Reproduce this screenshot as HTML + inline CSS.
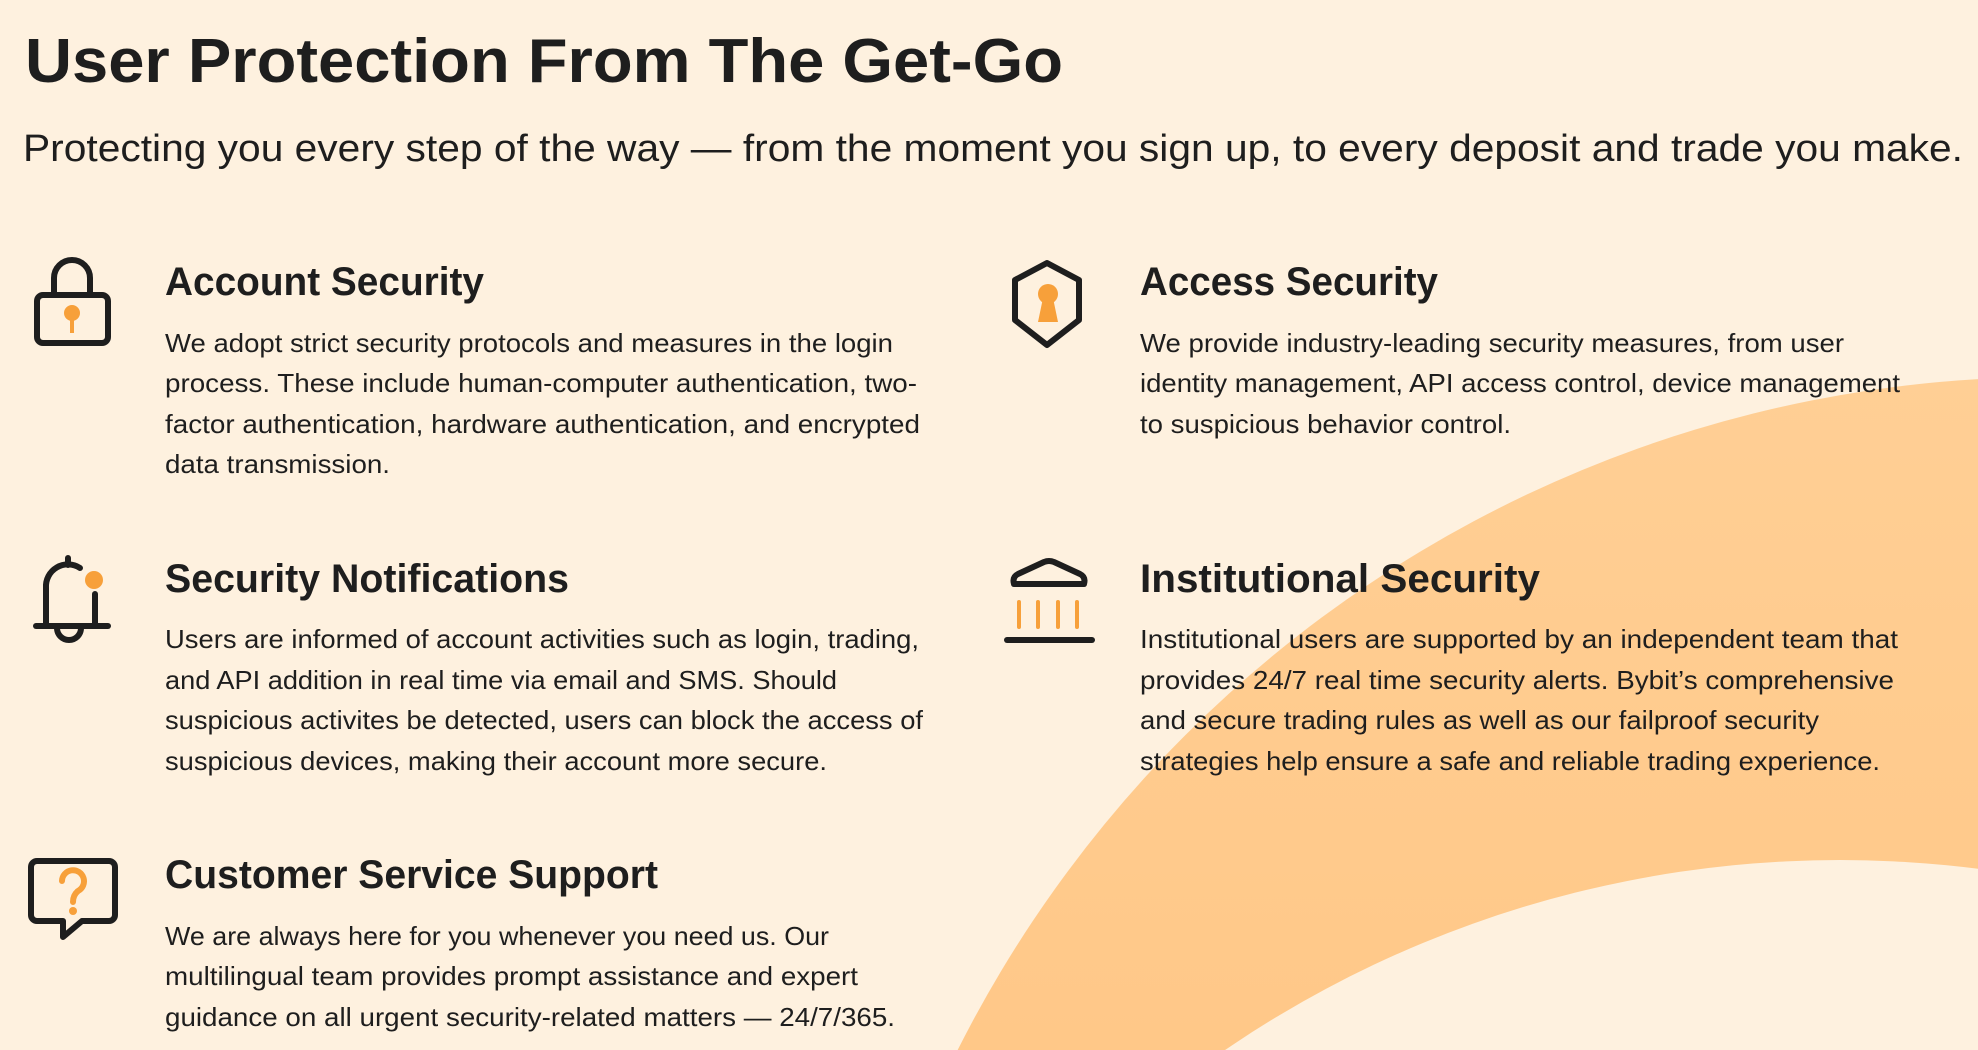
<!DOCTYPE html>
<html><head><meta charset="utf-8"><style>
html,body{margin:0;padding:0;background:#fef1df;width:1978px;height:1050px;overflow:hidden}
svg{display:block}
text{font-family:"Liberation Sans",sans-serif;fill:#1e1e1e}
.h{font-weight:bold;font-size:40px}
.b{font-size:26px}
</style></head><body>
<svg width="1978" height="1050" viewBox="0 0 1978 1050" xmlns="http://www.w3.org/2000/svg">
<defs>
<linearGradient id="g" x1="0" y1="0" x2="0" y2="1">
<stop offset="0" stop-color="#ffcf95"/><stop offset="1" stop-color="#ffb566"/>
</linearGradient>
<mask id="m"><rect width="1978" height="1050" fill="#fff"/><circle cx="1840" cy="1950" r="1090" fill="#000"/></mask>
</defs>
<rect width="1978" height="1050" fill="#fef1df"/>
<circle cx="2050" cy="1600" r="1223" fill="url(#g)" mask="url(#m)"/>

<text x="25" y="82" style="font-weight:bold;font-size:62px" textLength="1038" lengthAdjust="spacingAndGlyphs">User Protection From The Get-Go</text>
<text x="23" y="161" style="font-size:38px" textLength="1940" lengthAdjust="spacingAndGlyphs">Protecting you every step of the way — from the moment you sign up, to every deposit and trade you make.</text>

<text class="h" x="165" y="295" textLength="319" lengthAdjust="spacingAndGlyphs">Account Security</text>
<text class="b" x="165" y="352" textLength="728" lengthAdjust="spacingAndGlyphs">We adopt strict security protocols and measures in the login</text>
<text class="b" x="165" y="392" textLength="752" lengthAdjust="spacingAndGlyphs">process. These include human-computer authentication, two-</text>
<text class="b" x="165" y="433" textLength="755" lengthAdjust="spacingAndGlyphs">factor authentication, hardware authentication, and encrypted</text>
<text class="b" x="165" y="473" textLength="225" lengthAdjust="spacingAndGlyphs">data transmission.</text>

<text class="h" x="1140" y="295" textLength="298" lengthAdjust="spacingAndGlyphs">Access Security</text>
<text class="b" x="1140" y="352" textLength="704" lengthAdjust="spacingAndGlyphs">We provide industry-leading security measures, from user</text>
<text class="b" x="1140" y="392" textLength="760" lengthAdjust="spacingAndGlyphs">identity management, API access control, device management</text>
<text class="b" x="1140" y="433" textLength="371" lengthAdjust="spacingAndGlyphs">to suspicious behavior control.</text>

<text class="h" x="165" y="592" textLength="404" lengthAdjust="spacingAndGlyphs">Security Notifications</text>
<text class="b" x="165" y="648" textLength="754" lengthAdjust="spacingAndGlyphs">Users are informed of account activities such as login, trading,</text>
<text class="b" x="165" y="689" textLength="672" lengthAdjust="spacingAndGlyphs">and API addition in real time via email and SMS. Should</text>
<text class="b" x="165" y="729" textLength="758" lengthAdjust="spacingAndGlyphs">suspicious activites be detected, users can block the access of</text>
<text class="b" x="165" y="770" textLength="662" lengthAdjust="spacingAndGlyphs">suspicious devices, making their account more secure.</text>

<text class="h" x="1140" y="592" textLength="400" lengthAdjust="spacingAndGlyphs">Institutional Security</text>
<text class="b" x="1140" y="648" textLength="758" lengthAdjust="spacingAndGlyphs">Institutional users are supported by an independent team that</text>
<text class="b" x="1140" y="689" textLength="754" lengthAdjust="spacingAndGlyphs">provides 24/7 real time security alerts. Bybit’s comprehensive</text>
<text class="b" x="1140" y="729" textLength="679" lengthAdjust="spacingAndGlyphs">and secure trading rules as well as our failproof security</text>
<text class="b" x="1140" y="770" textLength="740" lengthAdjust="spacingAndGlyphs">strategies help ensure a safe and reliable trading experience.</text>

<text class="h" x="165" y="888" textLength="493" lengthAdjust="spacingAndGlyphs">Customer Service Support</text>
<text class="b" x="165" y="945" textLength="664" lengthAdjust="spacingAndGlyphs">We are always here for you whenever you need us. Our</text>
<text class="b" x="165" y="985" textLength="693" lengthAdjust="spacingAndGlyphs">multilingual team provides prompt assistance and expert</text>
<text class="b" x="165" y="1026" textLength="730" lengthAdjust="spacingAndGlyphs">guidance on all urgent security-related matters — 24/7/365.</text>

<!-- lock -->
<g fill="none" stroke="#1e1e1e" stroke-width="6" stroke-linecap="round">
<path d="M54 293 V278 A18 18 0 0 1 90 278 V293"/>
<rect x="37" y="295" width="71" height="48" rx="6"/>
</g>
<circle cx="72" cy="313" r="8" fill="#f7a03a"/>
<rect x="70" y="315" width="4" height="18" fill="#f7a03a"/>
<!-- shield -->
<path d="M1047 263 L1079 280 V320 L1047 345 L1015 320 V280 Z" fill="none" stroke="#1e1e1e" stroke-width="6" stroke-linejoin="round"/>
<circle cx="1048" cy="294" r="10" fill="#f7a03a"/>
<path d="M1043 298 H1053 L1058 322 H1038 Z" fill="#f7a03a"/>
<!-- bell -->
<g fill="none" stroke="#1e1e1e" stroke-width="6" stroke-linecap="round">
<path d="M68 558 V565"/>
<path d="M80 568 A22 22 0 0 0 46 588 V626 M95 594 V626"/>
<path d="M36 626 H108"/>
<path d="M57 628 A12 12 0 0 0 81 628"/>
</g>
<circle cx="94" cy="580" r="9" fill="#f7a03a"/>
<!-- bank -->
<g fill="none" stroke="#1e1e1e" stroke-width="6" stroke-linecap="round" stroke-linejoin="round">
<path d="M1014 584 Q1012 577 1018 574 L1044 562 Q1049 560 1054 562 L1080 574 Q1086 577 1084 584 Z"/>
<path d="M1007 640 H1092"/>
</g>
<g stroke="#f7a03a" stroke-width="4" stroke-linecap="round">
<path d="M1019 602 V627 M1038 602 V627 M1058 602 V627 M1077 602 V627"/>
</g>
<!-- chat -->
<path d="M37 861 H109 A6 6 0 0 1 115 867 V915 A6 6 0 0 1 109 921 H82 L63 937 V921 H37 A6 6 0 0 1 31 915 V867 A6 6 0 0 1 37 861 Z" fill="none" stroke="#1e1e1e" stroke-width="6" stroke-linejoin="round"/>
<path d="M62 881 A11 11 0 1 1 78 891 Q73 895 73 902" fill="none" stroke="#f7a03a" stroke-width="6" stroke-linecap="round"/>
<circle cx="73" cy="911" r="4" fill="#f7a03a"/>
</svg>
</body></html>
